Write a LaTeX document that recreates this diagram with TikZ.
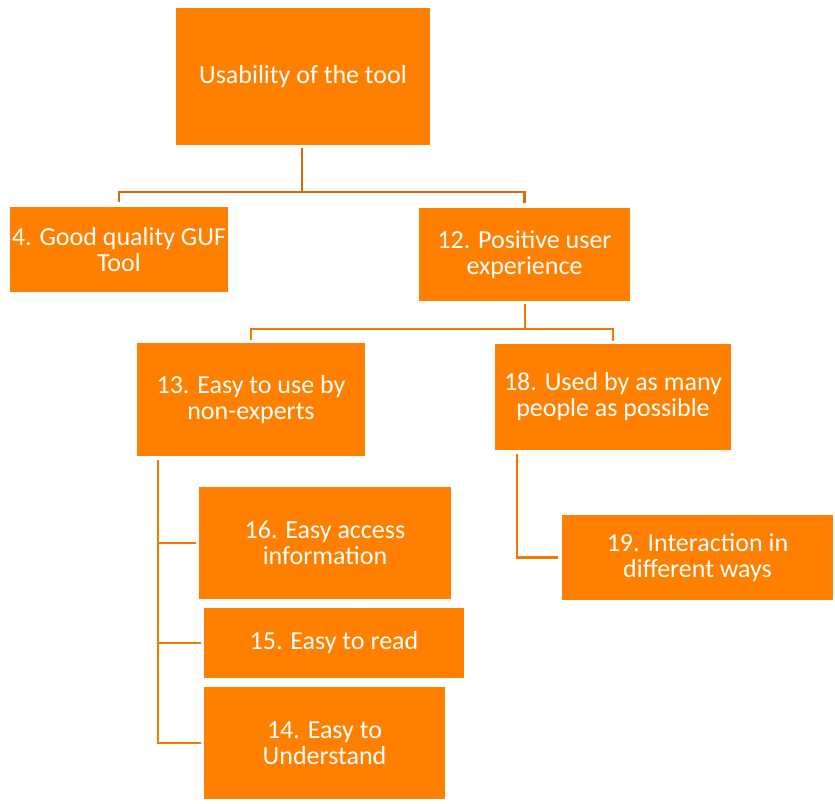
\documentclass[tikz,border=0pt]{standalone}
\usepackage{fontspec}
\setmainfont{Carlito}
\usetikzlibrary{calc}
\definecolor{boxorange}{RGB}{255,128,0}
\definecolor{linkdark}{RGB}{214,106,12}
\definecolor{linkorange}{RGB}{242,122,0}
\tikzset{
  goalbox/.style={fill=boxorange, text=white, align=center, inner sep=0pt,
    font=\fontsize{26}{26}\selectfont},
  link/.style={draw=linkorange, line width=2.6pt},
  toplink/.style={draw=linkdark, line width=2.6pt}
}
\begin{document}
\begin{tikzpicture}[x=1pt,y=-1pt]
  \useasboundingbox (0,0) rectangle (835,803);

  % goal boxes
  \node[goalbox, minimum width=254pt, minimum height=137pt] (use) at (303,76.5) {Usability of the tool};
  \node[goalbox, minimum width=218pt, minimum height=85pt] (guf) at (119,249.5) {4. Good quality GUF\\Tool};
  \node[goalbox, minimum width=211pt, minimum height=93pt] (pos) at (524.5,254.5) {12. Positive user\\experience};
  \node[goalbox, minimum width=228pt, minimum height=113pt] (easy) at (251,399.5) {13. Easy to use by\\non-experts};
  \node[goalbox, minimum width=236pt, minimum height=106pt] (used) at (613,397) {18. Used by as many\\people as possible};
  \node[goalbox, minimum width=252pt, minimum height=112pt] (access) at (325,543) {16. Easy access\\information};
  \node[goalbox, minimum width=260pt, minimum height=70pt] (read) at (334,643) {15. Easy to read};
  \node[goalbox, minimum width=241pt, minimum height=112pt] (understand) at (324.5,743) {14. Easy to\\Understand};
  \node[goalbox, minimum width=271pt, minimum height=85pt] (inter) at (697.5,557.5) {19. Interaction in\\different ways};

  % junction points of the connectors
  \coordinate (j1) at (302,192);
  \coordinate (j2) at (525,329);
  \coordinate (t1) at (158,460);
  \coordinate (t2) at (517,454);

  % top level split
  \draw[toplink] ([yshift=-3pt]use.south -| j1) -- (j1);
  \draw[toplink] (j1) -| ([yshift=5pt]guf.north);
  \draw[toplink] (j1) -| ([yshift=5pt]pos.north);

  % second level split
  \draw[link] ([yshift=-3pt]pos.south -| j2) -- (j2);
  \draw[link] (j2) -| ([yshift=3pt]easy.north);
  \draw[link] (j2) -| ([yshift=3pt]used.north);

  % left branch
  \draw[link] (t1) |- ([xshift=-3pt]understand.west);
  \draw[link] (t1 |- access.west) -- ([xshift=-3pt]access.west);
  \draw[link] (t1 |- read.west) -- ([xshift=-3pt]read.west);

  % right branch
  \draw[link] (t2) |- ([xshift=-4pt]inter.west);
\end{tikzpicture}
\end{document}
